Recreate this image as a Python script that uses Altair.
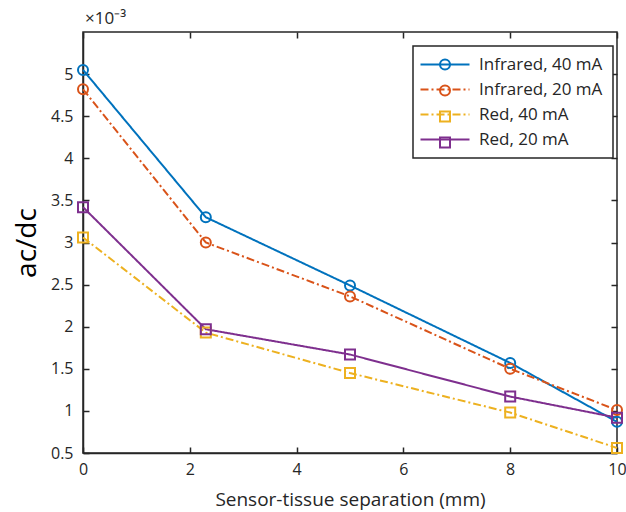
import altair as alt
import pandas as pd

# Data (values in units of 1e-3)
separation = [0, 2.3, 5, 8, 10]
series_names = ["Infrared, 40 mA", "Infrared, 20 mA", "Red, 40 mA", "Red, 20 mA"]
marker_keys = ["ir40", "ir20", "red40", "red20"]
ir_40 = [5.05, 3.30, 2.49, 1.57, 0.87]
ir_20 = [4.82, 3.00, 2.36, 1.50, 1.01]
red_40 = [3.06, 1.93, 1.45, 0.98, 0.56]
red_20 = [3.42, 1.97, 1.67, 1.17, 0.92]
x_ticks = [0, 2, 4, 6, 8, 10]
y_ticks = [0.5, 1, 1.5, 2, 2.5, 3, 3.5, 4, 4.5, 5]

colors = ["#0072BD", "#D95319", "#EDB120", "#7E2F8E"]
dashes = [[1, 0], [8, 3, 2, 3], [8, 3, 2, 3], [1, 0]]
shapes = ["circle", "circle", "square", "square"]

rows = []
for name, key, vals in zip(series_names, marker_keys, [ir_40, ir_20, red_40, red_20]):
    for xv, yv in zip(separation, vals):
        rows.append({"sep": xv, "val": yv, "series": name, "marker": key})
df = pd.DataFrame(rows)

W, H = 534, 421
FONT = "Open Sans"
AX = "#262626"

xscale = alt.Scale(domain=[0, 10], nice=False, zero=False)
yscale = alt.Scale(domain=[0.5, 5.5], nice=False, zero=False)

label_map = "{" + ",".join(f"'{k}':'{n}'" for k, n in zip(marker_keys, series_names)) + "}"

LEG_X, LEG_Y = 330, 14
leg_common = dict(
    orient="none", legendX=LEG_X, legendY=LEG_Y, title=None,
    padding=10, symbolOffset=13.5, labelOffset=25.5, labelFontSize=17,
    labelFont=FONT, symbolSize=100, symbolStrokeWidth=2, rowPadding=7,
)
legA = dict(symbolType="M-4.9,0H4.9", strokeColor=AX, fillColor="white",
            labelColor=AX, zindex=1, **leg_common)
legB = dict(labelColor="transparent", labelExpr=f"{label_map}[datum.label]",
            zindex=2, **leg_common)

base = alt.Chart(df)

lines = base.mark_line(strokeWidth=2).encode(
    x=alt.X("sep:Q", scale=xscale,
            axis=alt.Axis(orient="bottom", values=x_ticks, format="d", ticks=False, grid=False,
                          title="Sensor-tissue separation (mm)", titleFontSize=19,
                          titleFontWeight="normal", titleColor=AX, titlePadding=13,
                          labelPadding=8, labelFlush=False)),
    y=alt.Y("val:Q", scale=yscale,
            axis=alt.Axis(orient="left", values=y_ticks, format="~g", ticks=False, grid=False,
                          title="ac/dc", titleFontSize=28, titleFontWeight="normal",
                          titleColor="#000000", titlePadding=9, labelPadding=10)),
    stroke=alt.Stroke("series:N", scale=alt.Scale(domain=series_names, range=colors),
                      legend=alt.Legend(**legA)),
    strokeDash=alt.StrokeDash("series:N", scale=alt.Scale(domain=series_names, range=dashes),
                              legend=alt.Legend(**legA)),
)

points = base.mark_point(filled=False, size=100, strokeWidth=2, opacity=1).encode(
    x=alt.X("sep:Q", scale=xscale,
            axis=alt.Axis(orient="top", offset=-H, values=x_ticks, labels=False, grid=False,
                          domain=False, ticks=True, tickSize=6, title=None)),
    y=alt.Y("val:Q", scale=yscale,
            axis=alt.Axis(orient="right", offset=-W, values=y_ticks, labels=False, grid=False,
                          domain=False, ticks=True, tickSize=6, title=None)),
    color=alt.Color("marker:N", scale=alt.Scale(domain=marker_keys, range=colors),
                    legend=alt.Legend(**legB)),
    shape=alt.Shape("marker:N", scale=alt.Scale(domain=marker_keys, range=shapes),
                    legend=alt.Legend(**legB)),
)

ghost = base.mark_line(opacity=0).encode(
    x=alt.X("sep:Q", scale=xscale,
            axis=alt.Axis(orient="bottom", offset=-H, values=x_ticks, labels=False, grid=False,
                          domain=False, ticks=True, tickSize=6, title=None)),
    y=alt.Y("val:Q", scale=yscale,
            axis=alt.Axis(orient="left", offset=-W, values=y_ticks, labels=False, grid=False,
                          domain=False, ticks=True, tickSize=6, title=None)),
)

chart = alt.layer(lines, points, ghost).resolve_axis(
    x="independent", y="independent"
).properties(
    width=W, height=H,
    autosize=alt.AutoSizeParams(type="none"),
    padding={"left": 83, "top": 32, "right": 9, "bottom": 59},
    title=alt.TitleParams(text="×10⁻³", anchor="start", frame="group", fontSize=17,
                          fontWeight="normal", color=AX, font=FONT, offset=3, dx=2),
).configure_view(
    stroke=AX, strokeWidth=1.5
).configure_axis(
    domainColor=AX, domainWidth=1.5, tickColor=AX, tickWidth=1.5,
    labelColor=AX, labelFont=FONT, labelFontSize=16, titleFont=FONT, grid=False,
).configure_legend(
    strokeWidth=1.5
)

chart.save("out.html", embed_options={"renderer": "svg", "actions": False})
